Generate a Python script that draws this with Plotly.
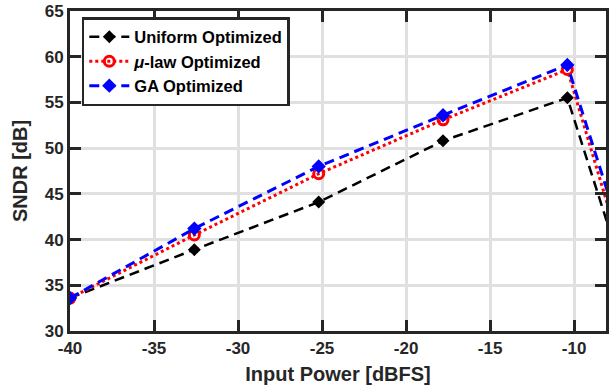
import plotly.graph_objects as go

input_power = [-40, -32.6, -25.2, -17.8, -10.4, -3.0]
uniform_opt = [33.6, 38.9, 44.1, 50.8, 55.5, 12.9]
mulaw_opt = [33.6, 40.5, 47.2, 53.1, 58.6, 12.9]
ga_opt = [33.6, 41.2, 48.0, 53.6, 59.1, 16.2]

x_ticks = [-40, -35, -30, -25, -20, -15, -10]
y_ticks = [30, 35, 40, 45, 50, 55, 60, 65]

AX = "#262626"
FONT = "Liberation Sans, Arial, sans-serif"

fig = go.Figure()
fig.add_trace(go.Scatter(
    x=input_power, y=uniform_opt, name="<b>Uniform Optimized</b>", mode="lines+markers",
    line=dict(color="black", width=2.5, dash="10px,6px"),
    marker=dict(symbol="diamond", size=10, color="black", line=dict(width=0)),
))
fig.add_trace(go.Scatter(
    x=input_power, y=mulaw_opt, name="<b><i>μ</i>-law Optimized</b>", mode="lines+markers",
    line=dict(color="red", width=3, dash="3px,3px"),
    marker=dict(symbol="circle-open", size=10, color="red", line=dict(width=3, color="red")),
))
fig.add_trace(go.Scatter(
    x=input_power, y=ga_opt, name="<b>GA Optimized</b>", mode="lines+markers",
    line=dict(color="blue", width=3, dash="10px,6px"),
    marker=dict(symbol="diamond", size=11, color="blue", line=dict(width=0)),
))

axis_common = dict(
    showgrid=True, gridcolor="#e0e0e0", gridwidth=2.5,
    showline=True, linecolor=AX, linewidth=3, mirror="ticks",
    ticks="inside", ticklen=11, tickwidth=3, tickcolor=AX,
    zeroline=False,
    tickfont=dict(family=FONT, size=17, color=AX, weight="bold"),
)

fig.update_layout(
    width=609, height=391,
    margin=dict(l=70, r=0, t=11, b=60),
    plot_bgcolor="white", paper_bgcolor="white",
    font=dict(family=FONT, color=AX),
    xaxis=dict(range=[-40, -8.1], tickvals=x_ticks, ticktext=[str(v) for v in x_ticks],
               title=dict(text="<b>Input Power [dBFS]</b>", font=dict(family=FONT, size=20, color=AX), standoff=10),
               **axis_common),
    yaxis=dict(range=[30, 65], tickvals=y_ticks, ticktext=[str(v) for v in y_ticks],
               title=dict(text="<b>SNDR [dB]</b>", font=dict(family=FONT, size=20, color=AX), standoff=12),
               **axis_common),
    legend=dict(x=0.022, y=0.981, xanchor="left", yanchor="top",
                bgcolor="white", bordercolor=AX, borderwidth=2.5,
                font=dict(family=FONT, size=16.5, color="black"),
                tracegroupgap=0, itemwidth=40),
    showlegend=True,
)

fig.write_html("out.html")
